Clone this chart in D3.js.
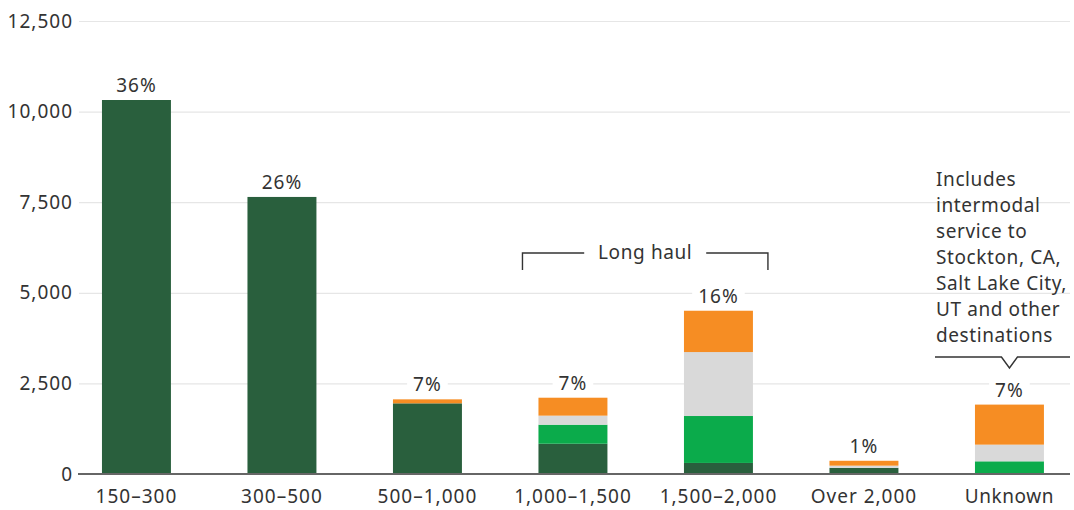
<!DOCTYPE html>
<html>
<head>
<meta charset="utf-8">
<script src="https://cdn.jsdelivr.net/npm/d3@7"></script>
<style>
  html, body { margin: 0; padding: 0; background: #fff; }
  svg { display: block; font-family: "Noto Sans", "Open Sans", sans-serif; }
</style>
</head>
<body>
<svg id="chart" width="1074" height="510"></svg>
<script>
// Distance bands (miles)
const categories = ["150–300", "300–500", "500–1,000", "1,000–1,500", "1,500–2,000", "Over 2,000", "Unknown"];
// Stacked segments, bottom to top
const seriesKeys = ["deepGreen", "green", "grey", "orange"];
const deepGreen = [10320, 7645, 1950, 835, 305, 170, 0];
const green     = [0, 0, 0, 525, 1295, 0, 350];
const grey      = [0, 0, 0, 250, 1765, 60, 460];
const orange    = [0, 0, 110, 495, 1140, 135, 1105];
// Share of total, shown above each bar
const shareLabels = ["36%", "26%", "7%", "7%", "16%", "1%", "7%"];
const yTicks = [0, 2500, 5000, 7500, 10000, 12500];
const noteLines = ["Includes", "intermodal", "service to", "Stockton, CA,", "Salt Lake City,", "UT and other", "destinations"];
const bracketLabel = "Long haul";

const colors = { deepGreen: "#295f3d", green: "#0bab4b", grey: "#d9d9d9", orange: "#f68d23" };

const rows = categories.map((c, i) => ({
  category: c,
  deepGreen: deepGreen[i], green: green[i], grey: grey[i], orange: orange[i]
}));

const svg = d3.select("#chart");
const fontSize = 19;
const numSpacing = "1px";   // figures set a touch wider
const wordSpacing = "0.6px";

const x = d3.scaleBand()
  .domain(categories)
  .range([63.7, 1082.2])
  .paddingInner(0.526)
  .paddingOuter(0.263);

const y = d3.scaleLinear().domain([0, 12500]).range([474, 21]);

// Gridlines and y labels
const yAxis = d3.axisLeft(y)
  .tickValues(yTicks)
  .tickFormat(d3.format(","))
  .tickSize(-(1070 - 79))
  .tickPadding(7);

const gy = svg.append("g").attr("transform", "translate(79,0)").call(yAxis);
gy.select(".domain").remove();
gy.selectAll(".tick line").attr("stroke", "#e6e6e6").attr("stroke-width", 1.2);
gy.selectAll(".tick text")
  .attr("fill", "#333")
  .attr("font-size", fontSize)
  .attr("font-family", "Noto Sans, sans-serif")
  .attr("letter-spacing", numSpacing)
  .attr("x", -6);

// Stacked bars
const stack = d3.stack().keys(seriesKeys)(rows);
svg.append("g").selectAll("g")
  .data(stack)
  .join("g")
  .attr("fill", d => colors[d.key])
  .selectAll("rect")
  .data(d => d)
  .join("rect")
  .attr("x", d => x(d.data.category))
  .attr("width", x.bandwidth())
  .attr("y", d => y(d[1]))
  .attr("height", d => y(d[0]) - y(d[1]));

// Baseline axis
const xAxis = d3.axisBottom(x).tickSize(0).tickPadding(16);
const gx = svg.append("g").attr("transform", `translate(0,${y(0)})`).call(xAxis);
gx.select(".domain").remove();
gx.append("line")
  .attr("x1", 78).attr("x2", 1070)
  .attr("stroke", "#666").attr("stroke-width", 2);
gx.selectAll(".tick text")
  .attr("fill", "#333")
  .attr("font-size", fontSize)
  .attr("font-family", "Noto Sans, sans-serif")
  .attr("letter-spacing", d => /\d/.test(d) ? numSpacing : wordSpacing);

// Share labels with white knockout behind them
const totals = rows.map(r => seriesKeys.reduce((s, k) => s + r[k], 0));
const labels = svg.append("g").selectAll("g")
  .data(categories)
  .join("g")
  .attr("transform", (c, i) => `translate(${x(c) + x.bandwidth() / 2},${y(totals[i]) - 8})`);
labels.append("rect")
  .attr("fill", "#fff");
labels.append("text")
  .attr("text-anchor", "middle")
  .attr("fill", "#333")
  .attr("font-size", fontSize)
  .attr("letter-spacing", numSpacing)
  .text((c, i) => shareLabels[i]);
labels.each(function () {
  const g = d3.select(this);
  const bb = g.select("text").node().getBBox();
  g.select("rect")
    .attr("x", bb.x - 6).attr("y", bb.y + 2)
    .attr("width", bb.width + 12).attr("height", bb.height - 4);
});

// "Long haul" bracket over the two middle distance bands
const bx1 = x("1,000–1,500") - 16;
const bx2 = x("1,500–2,000") + x.bandwidth() + 15;
const bTop = 253, bBottom = 270;
const bracket = svg.append("g").attr("stroke", "#333").attr("stroke-width", 1.4).attr("fill", "none");
const bMid = (bx1 + bx2) / 2;
bracket.append("path").attr("d", `M${bx1},${bBottom}V${bTop}H${bMid - 61}`);
bracket.append("path").attr("d", `M${bMid + 61},${bTop}H${bx2}V${bBottom}`);
svg.append("text")
  .attr("x", bMid).attr("y", bTop + 6)
  .attr("text-anchor", "middle")
  .attr("fill", "#333")
  .attr("font-size", fontSize)
  .attr("letter-spacing", wordSpacing)
  .text(bracketLabel);

// Note above the Unknown bar
const noteX = 936;
const note = svg.append("text")
  .attr("fill", "#333")
  .attr("font-size", fontSize)
  .attr("letter-spacing", wordSpacing);
note.selectAll("tspan")
  .data(noteLines)
  .join("tspan")
  .attr("x", noteX)
  .attr("y", (d, i) => 186 + i * 25.95)
  .text(d => d);

const cx = x("Unknown") + x.bandwidth() / 2;
svg.append("path")
  .attr("d", `M935,357H${cx - 8}L${cx},368L${cx + 8},357H1070`)
  .attr("stroke", "#333").attr("stroke-width", 1.4).attr("fill", "none");
</script>
</body>
</html>
